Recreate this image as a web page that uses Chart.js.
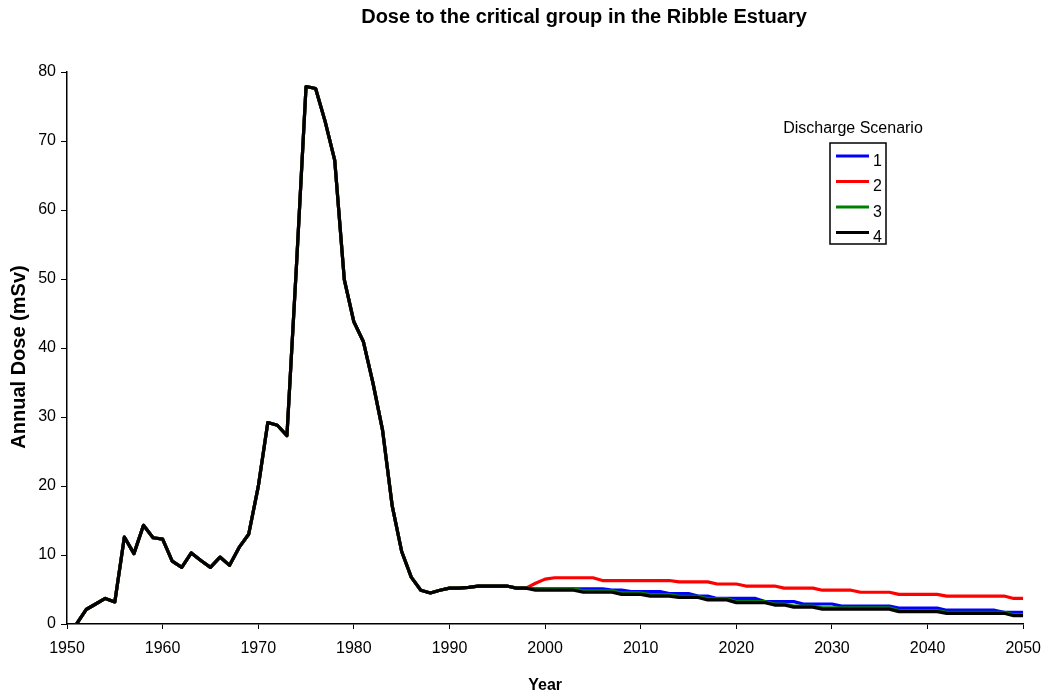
<!DOCTYPE html>
<html>
<head>
<meta charset="utf-8">
<script src="https://cdn.jsdelivr.net/npm/chart.js@4.4.0/dist/chart.umd.min.js"></script>
<style>
  body { margin: 0; background: #fff; }
  #wrap { width: 1051px; height: 697px; }
</style>
</head>
<body>
<div id="wrap"><canvas id="graphCanvas" width="1051" height="697"></canvas></div>
<script>
var chartTitle = 'Dose to the critical group in the Ribble Estuary';
var legendTitle = 'Discharge Scenario';
var xTitle = 'Year';
var yTitle = 'Annual Dose (mSv)';

var years = [1951, 1952, 1953, 1954, 1955, 1956, 1957, 1958, 1959, 1960,
  1961, 1962, 1963, 1964, 1965, 1966, 1967, 1968, 1969, 1970,
  1971, 1972, 1973, 1974, 1975, 1976, 1977, 1978, 1979, 1980,
  1981, 1982, 1983, 1984, 1985, 1986, 1987, 1988, 1989, 1990,
  1991, 1992, 1993, 1994, 1995, 1996, 1997, 1998, 1999, 2000,
  2001, 2002, 2003, 2004, 2005, 2006, 2007, 2008, 2009, 2010,
  2011, 2012, 2013, 2014, 2015, 2016, 2017, 2018, 2019, 2020,
  2021, 2022, 2023, 2024, 2025, 2026, 2027, 2028, 2029, 2030,
  2031, 2032, 2033, 2034, 2035, 2036, 2037, 2038, 2039, 2040,
  2041, 2042, 2043, 2044, 2045, 2046, 2047, 2048, 2049, 2050];

// 1951-1998, same for all scenarios
var pastDose = [0, 2.1, 2.9, 3.7, 3.2, 12.6, 10.2, 14.3, 12.5, 12.3,
  9.1, 8.2, 10.3, 9.2, 8.2, 9.7, 8.5, 11.1, 13.0, 19.9,
  29.2, 28.8, 27.3, 52, 77.9, 77.6, 72.8, 67.2, 49.9, 43.8,
  40.9, 34.9, 28.1, 17.2, 10.5, 6.8, 4.9, 4.5, 4.9, 5.2,
  5.2, 5.3, 5.5, 5.5, 5.5, 5.5, 5.2, 5.2];

// 1999-2050 per scenario
var scen1 = [5.1, 5.1, 5.1, 5.1, 5.1, 5.1, 5.1, 5.1, 4.9, 4.9,
  4.7, 4.7, 4.7, 4.7, 4.4, 4.4, 4.4, 4.05, 4.05, 3.7,
  3.7, 3.7, 3.7, 3.7, 3.25, 3.25, 3.25, 3.25, 2.9, 2.9,
  2.9, 2.9, 2.6, 2.6, 2.6, 2.6, 2.6, 2.6, 2.3, 2.3,
  2.3, 2.3, 2.3, 2.0, 2.0, 2.0, 2.0, 2.0, 2.0, 1.7,
  1.7, 1.7];
var scen2 = [5.9, 6.5, 6.7, 6.7, 6.7, 6.7, 6.7, 6.3, 6.3, 6.3,
  6.3, 6.3, 6.3, 6.3, 6.3, 6.1, 6.1, 6.1, 6.1, 5.8,
  5.8, 5.8, 5.5, 5.5, 5.5, 5.5, 5.2, 5.2, 5.2, 5.2,
  4.9, 4.9, 4.9, 4.9, 4.6, 4.6, 4.6, 4.6, 4.3, 4.3,
  4.3, 4.3, 4.3, 4.05, 4.05, 4.05, 4.05, 4.05, 4.05, 4.05,
  3.7, 3.7];
var scen3 = [5.1, 5.1, 5.1, 5.1, 5.1, 4.8, 4.8, 4.8, 4.8, 4.5,
  4.5, 4.5, 4.25, 4.25, 4.25, 4.0, 4.0, 4.0, 3.65, 3.65,
  3.65, 3.25, 3.25, 3.25, 3.25, 2.9, 2.9, 2.6, 2.6, 2.6,
  2.35, 2.35, 2.35, 2.35, 2.35, 2.35, 2.35, 2.35, 1.95, 1.95,
  1.95, 1.95, 1.95, 1.7, 1.7, 1.7, 1.7, 1.7, 1.7, 1.7,
  1.35, 1.35];
var scen4 = [4.9, 4.9, 4.9, 4.9, 4.9, 4.6, 4.6, 4.6, 4.6, 4.3,
  4.3, 4.3, 4.05, 4.05, 4.05, 3.85, 3.85, 3.85, 3.5, 3.5,
  3.5, 3.1, 3.1, 3.1, 3.1, 2.75, 2.75, 2.45, 2.45, 2.45,
  2.15, 2.15, 2.15, 2.15, 2.15, 2.15, 2.15, 2.15, 1.8, 1.8,
  1.8, 1.8, 1.8, 1.55, 1.55, 1.55, 1.55, 1.55, 1.55, 1.55,
  1.2, 1.2];

var scenNames = ['1', '2', '3', '4'];
var scenColors = ['#0000ff', '#ff0000', '#008000', '#000000'];
var scenValues = [scen1, scen2, scen3, scen4];

var fontFam = 'Arial, "Liberation Sans", sans-serif';
Chart.defaults.font.family = fontFam;
Chart.defaults.color = '#000';

function points(future) {
  var vals = pastDose.concat(future);
  var out = [];
  for (var i = 0; i < years.length; i++) {
    out.push({x: years[i], y: vals[i]});
  }
  return out;
}

var datasets = [];
for (var s = 0; s < scenNames.length; s++) {
  datasets.push({
    label: scenNames[s],
    data: points(scenValues[s]),
    borderColor: scenColors[s],
    backgroundColor: scenColors[s],
    borderWidth: 3.2,
    pointRadius: 0,
    tension: 0,
    borderJoinStyle: 'round',
    order: scenNames.length - s   // black on top, like the original
  });
}

// title, y title and boxed legend drawn at fixed spots
var overlay = {
  id: 'overlay',
  afterDraw: function(chart) {
    var ctx = chart.ctx;
    ctx.save();
    ctx.fillStyle = '#000';
    ctx.font = 'bold 20px ' + fontFam;
    ctx.textAlign = 'center';
    ctx.textBaseline = 'alphabetic';
    ctx.fillText(chartTitle, 584, 23);

    ctx.save();
    ctx.translate(19, 357);
    ctx.rotate(-Math.PI / 2);
    ctx.textBaseline = 'middle';
    ctx.fillText(yTitle, 0, 0);
    ctx.restore();

    ctx.font = '16px ' + fontFam;
    ctx.fillText(legendTitle, 853, 133);

    ctx.strokeStyle = '#000';
    ctx.lineWidth = 1.5;
    ctx.strokeRect(830, 143, 56, 101);

    ctx.textAlign = 'left';
    chart.data.datasets.forEach(function(ds, i) {
      var y = 156 + i * 25.5;
      ctx.strokeStyle = ds.borderColor;
      ctx.lineWidth = 3;
      ctx.beginPath();
      ctx.moveTo(836, y);
      ctx.lineTo(869, y);
      ctx.stroke();
      ctx.fillStyle = '#000';
      ctx.fillText(ds.label, 873, y + 9.5);
    });
    ctx.restore();
  }
};

new Chart(document.getElementById('graphCanvas'), {
  type: 'line',
  data: { datasets: datasets },
  options: {
    responsive: false,
    animation: false,
    devicePixelRatio: 1,
    layout: { padding: { top: 72, right: 22, left: 0, bottom: 0 } },
    plugins: {
      legend: { display: false },
      title: { display: false },
      tooltip: { enabled: false }
    },
    scales: {
      x: {
        type: 'linear',
        min: 1950,
        max: 2050,
        afterFit: function(scale) { scale.height = 73; },
        ticks: {
          stepSize: 10,
          padding: 10,
          font: { size: 16 },
          color: '#000',
          maxRotation: 0,
          callback: function(v) { return String(v); }
        },
        grid: { display: true, drawOnChartArea: false, drawTicks: true, tickLength: 5, color: '#000', lineWidth: 1 },
        border: { display: true, color: '#000', width: 1.5 },
        title: { display: true, text: xTitle, font: { size: 16, weight: 'bold' }, padding: { top: 0, bottom: 2 } }
      },
      y: {
        min: 0,
        max: 80,
        afterFit: function(scale) { scale.width = 67; },
        ticks: {
          stepSize: 10,
          padding: 5,
          font: { size: 16 },
          color: '#000'
        },
        grid: { display: true, drawOnChartArea: false, drawTicks: true, tickLength: 6, color: '#000', lineWidth: 1 },
        border: { display: true, color: '#000', width: 1.5 }
      }
    }
  },
  plugins: [overlay]
});
</script>
</body>
</html>
